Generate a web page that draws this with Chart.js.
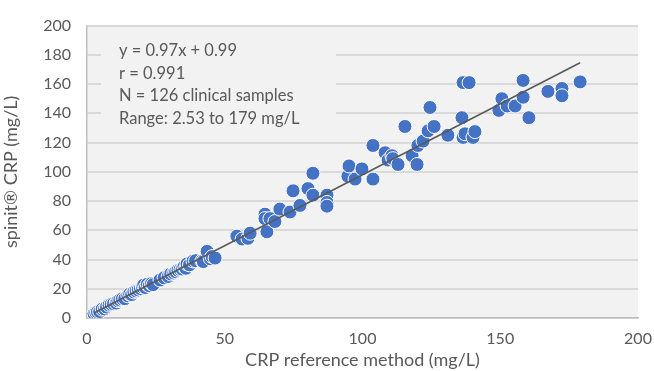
<!DOCTYPE html>
<html>
<head>
<meta charset="utf-8">
<script src="https://cdn.jsdelivr.net/npm/chart.js@4/dist/chart.umd.min.js"></script>
<style>
  html, body { margin: 0; padding: 0; background: #fff; }
  #wrap { width: 654px; height: 371px; }
</style>
</head>
<body>
<div id="wrap"><canvas id="c" width="654" height="371"></canvas></div>
<script>
// CRP reference method (x) vs spinit CRP (y), mg/L
const refValues = [
  2.53, 3.2, 3.8, 4.6, 5.5, 6.4, 7.1, 8.0, 8.8,
  9.6, 10.6, 11.2, 11.9, 12.8, 13.7, 14.8, 15.5, 16.2,
  17.0, 17.8, 18.6, 19.4, 20.1, 20.6, 21.2, 21.9, 22.6, 23.4, 24.0, 26.5,
  28.0, 29.5, 30.4, 31.5, 32.2, 33.0, 33.8, 34.5, 35.2, 35.9, 36.3, 37.2, 38.5, 39.4, 41.7, 42.2, 43.6, 44.8, 45.4, 46.5,
  54.4, 56.3, 58.4, 59.2,
  64.6, 64.6, 66.4, 65.3, 68.2, 70.0, 73.7, 74.8, 77.3, 80.2, 82.0, 82.0, 87.1, 87.1, 87.1,
  94.7, 95.1, 97.3, 99.8, 103.8, 103.8, 108.2, 109.3, 110.7, 111.0, 112.9, 115.4, 118.0, 119.8,
  120.1, 122.0, 123.8, 124.5, 126.0, 131.0,
  136.5, 138.7, 136.1, 136.5, 137.2, 140.1, 140.8, 149.5, 150.6, 152.5, 155.4, 158.3, 158.3,
  160.4, 167.3, 172.4, 172.4, 179.0
];
const spinitValues = [
  3.0, 3.8, 4.2, 4.4, 6.1, 6.2, 7.5, 8.8, 9.4,
  9.8, 10.2, 11.8, 12.4, 13.1, 13.2, 15.2, 16.4, 16.0,
  17.8, 18.5, 19.2, 20.1, 21.3, 22.5, 20.8, 23.0, 22.0, 23.5, 22.8, 26.0,
  27.5, 28.4, 30.1, 30.8, 31.6, 32.6, 33.2, 33.5, 35.0, 34.0, 37.0, 36.4, 39.0, 39.2, 39.0, 38.6, 45.6, 40.5, 42.0, 41.0,
  56.0, 54.0, 54.5, 58.0,
  71.0, 68.0, 68.0, 59.0, 66.0, 74.5, 72.5, 87.0, 77.0, 88.5, 99.0, 84.0, 84.0, 79.0, 76.5,
  97.0, 104.0, 95.0, 102.0, 118.0, 95.0, 113.0, 108.0, 111.0, 109.0, 105.0, 131.0, 111.0, 105.0,
  118.0, 121.0, 128.0, 144.0, 131.0, 125.0,
  161.0, 161.0, 137.0, 123.5, 126.0, 123.5, 127.5, 142.0, 150.0, 145.0, 145.0, 162.5, 151.0,
  137.0, 155.0, 157.0, 152.0, 161.5
];
// trendline y = 0.97x + 0.99 over the measured range
const fitLine = [{ x: 2.53, y: 3.44 }, { x: 179, y: 174.6 }];
const statLines = ['y = 0.97x + 0.99', 'r = 0.991', 'N = 126 clinical samples', 'Range: 2.53 to 179 mg/L'];
const xTicks = [0, 50, 100, 150, 200];
const yTicks = [0, 20, 40, 60, 80, 100, 120, 140, 160, 180, 200];

const FONT = 'Lato, "Open Sans", sans-serif';
const GREY = '#595959';

const plotBg = {
  id: 'plotBg',
  beforeDraw(chart) {
    const { ctx, chartArea: a } = chart;
    ctx.save();
    ctx.fillStyle = '#f2f2f2';
    ctx.fillRect(a.left, a.top, a.right - a.left, a.bottom - a.top);
    ctx.restore();
  },
  beforeDatasetsDraw(chart) {
    // stats text box covers the gridlines behind it
    const { ctx, chartArea: a } = chart;
    ctx.save();
    ctx.fillStyle = '#f2f2f2';
    ctx.fillRect(a.left + 14, a.top + 4, 235, 100);
    ctx.fillStyle = GREY;
    ctx.font = '16.5px ' + FONT;
    ctx.textBaseline = 'middle';
    statLines.forEach((t, i) => ctx.fillText(t, a.left + 32, a.top + 25 + i * 22.6));
    ctx.restore();
  }
};

new Chart(document.getElementById('c'), {
  type: 'scatter',
  data: {
    datasets: [
      {
        label: 'fit',
        type: 'line',
        data: fitLine,
        borderColor: '#595959',
        borderWidth: 1.5,
        pointRadius: 0,
        order: 0
      },
      {
        label: 'samples',
        data: refValues.map((x, i) => ({ x, y: spinitValues[i] })),
        backgroundColor: '#4472c4',
        borderColor: '#ffffff',
        borderWidth: 1,
        pointRadius: 7,
        order: 1
      }
    ]
  },
  plugins: [plotBg],
  options: {
    responsive: false,
    animation: false,
    layout: { padding: { top: 21, right: 16, bottom: 0, left: 0 } },
    plugins: { legend: { display: false }, tooltip: { enabled: false } },
    scales: {
      x: {
        type: 'linear', min: 0, max: 200,
        afterBuildTicks: s => { s.ticks = xTicks.map(v => ({ value: v })); },
        afterFit: s => { s.height = 53; s.paddingLeft = 0; s.paddingRight = 0; },
        grid: { display: false, drawTicks: false },
        border: { display: true, color: '#bfbfbf', width: 1.5 },
        ticks: { color: GREY, font: { family: FONT, size: 16 }, padding: 11, maxRotation: 0 },
        title: { display: true, text: 'CRP reference method (mg/L)', color: GREY,
                 font: { family: FONT, size: 18 }, padding: { top: 0, bottom: 0 } }
      },
      y: {
        type: 'linear', min: 0, max: 200,
        afterBuildTicks: s => { s.ticks = yTicks.map(v => ({ value: v })); },
        afterFit: s => { s.width = 87; },
        grid: { color: '#d9d9d9', lineWidth: 2, drawTicks: false },
        border: { display: true, color: '#bfbfbf', width: 1.5 },
        ticks: { color: GREY, font: { family: FONT, size: 16 }, padding: 16 },
        title: { display: true, text: 'spinit\u00ae CRP (mg/L)', color: GREY,
                 font: { family: FONT, size: 18 }, padding: { top: 0, bottom: 2 } }
      }
    }
  }
});
</script>
</body>
</html>
